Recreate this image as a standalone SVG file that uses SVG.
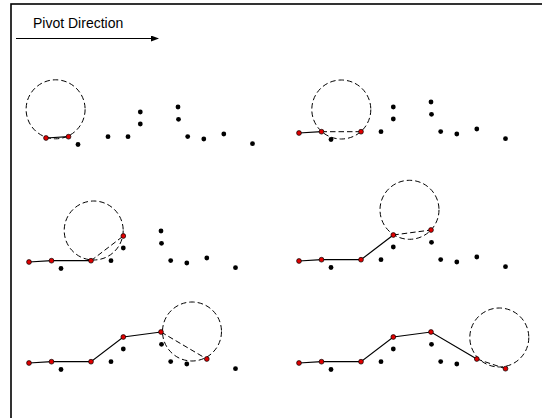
<svg xmlns="http://www.w3.org/2000/svg" xmlns:xlink="http://www.w3.org/1999/xlink" width="542" height="418" viewBox="0 0 542 418">
<style>
.frame{fill:none;stroke:#000;stroke-width:1.6}
.title{font-family:"Liberation Sans",Arial,sans-serif;font-size:14px;fill:#000}
.ball{fill:none;stroke:#000;stroke-width:1;stroke-dasharray:5.5,3}
.edge{fill:none;stroke:#000;stroke-width:1.2}
.cand{fill:none;stroke:#000;stroke-width:1;stroke-dasharray:5.5,3}
.pt{fill:#000}
.rp{fill:#e00000;stroke:#000;stroke-width:0.7}
</style>
<defs>
<marker id="arr" markerWidth="8" markerHeight="6" refX="7" refY="3" orient="auto" markerUnits="userSpaceOnUse">
<path d="M0,0 L8,3 L0,6 Z" fill="#000"/>
</marker>
<circle id="b" r="2.4" class="pt"/>
<circle id="r" r="2.4" class="rp"/>
</defs>
<rect class="frame" x="11" y="4" width="560" height="450"/>
<g id="legend">
<text class="title" x="33" y="28">Pivot Direction</text>
<line x1="16" y1="38.5" x2="158" y2="38.5" stroke="#000" stroke-width="1" marker-end="url(#arr)"/>
</g>

<g id="panel1" transform="translate(0,0)">
<g id="connectors1">
<circle class="ball" cx="55.6" cy="109.3" r="29.5"/>
<polyline class="edge" points="46,138 68.5,136.7"/>
</g>
<g id="points1">
<use href="#r" x="46" y="138"/><use href="#r" x="68.5" y="136.7"/>
<use href="#b" x="78" y="144.5"/><use href="#b" x="108" y="136.7"/><use href="#b" x="128" y="136.7"/>
<use href="#b" x="140.3" y="112"/><use href="#b" x="140.3" y="124"/><use href="#b" x="178" y="107"/>
<use href="#b" x="178.5" y="119.3"/><use href="#b" x="187.7" y="136.6"/><use href="#b" x="203.8" y="139"/>
<use href="#b" x="223.8" y="134"/><use href="#b" x="252.5" y="143.7"/>
</g>
</g>

<g id="panel2" transform="translate(253,-5)">
<g id="connectors2">
<circle class="ball" cx="88.3" cy="114.5" r="29.5"/>
<polyline class="edge" points="46,138 68.5,136.7"/>
<line class="cand" x1="68.5" y1="136.7" x2="108" y2="136.7"/>
</g>
<g id="points2">
<use href="#r" x="46" y="138"/><use href="#r" x="68.5" y="136.7"/>
<use href="#b" x="78" y="144.5"/><use href="#r" x="108" y="136.7"/><use href="#b" x="128" y="136.7"/>
<use href="#b" x="140.3" y="112"/><use href="#b" x="140.3" y="124"/><use href="#b" x="178" y="107"/>
<use href="#b" x="178.5" y="119.3"/><use href="#b" x="187.7" y="136.6"/><use href="#b" x="203.8" y="139"/>
<use href="#b" x="223.8" y="134"/><use href="#b" x="252.5" y="143.7"/>
</g>
</g>

<g id="panel3" transform="translate(-17,124)">
<g id="connectors3">
<circle class="ball" cx="110.7" cy="106.5" r="29.5"/>
<polyline class="edge" points="46,138 68.5,136.7 108,136.7"/>
<line class="cand" x1="108" y1="136.7" x2="140.3" y2="112"/>
</g>
<g id="points3">
<use href="#r" x="46" y="138"/><use href="#r" x="68.5" y="136.7"/>
<use href="#b" x="78" y="144.5"/><use href="#r" x="108" y="136.7"/><use href="#b" x="128" y="136.7"/>
<use href="#r" x="140.3" y="112"/><use href="#b" x="140.3" y="124"/><use href="#b" x="178" y="107"/>
<use href="#b" x="178.5" y="119.3"/><use href="#b" x="187.7" y="136.6"/><use href="#b" x="203.8" y="139"/>
<use href="#b" x="223.8" y="134"/><use href="#b" x="252.5" y="143.7"/>
</g>
</g>

<g id="panel4" transform="translate(253,123)">
<g id="connectors4">
<circle class="ball" cx="156.5" cy="86.8" r="29.5"/>
<polyline class="edge" points="46,138 68.5,136.7 108,136.7 140.3,112"/>
<line class="cand" x1="140.3" y1="112" x2="178" y2="107"/>
</g>
<g id="points4">
<use href="#r" x="46" y="138"/><use href="#r" x="68.5" y="136.7"/>
<use href="#b" x="78" y="144.5"/><use href="#r" x="108" y="136.7"/><use href="#b" x="128" y="136.7"/>
<use href="#r" x="140.3" y="112"/><use href="#b" x="140.3" y="124"/><use href="#r" x="178" y="107"/>
<use href="#b" x="178.5" y="119.3"/><use href="#b" x="187.7" y="136.6"/><use href="#b" x="203.8" y="139"/>
<use href="#b" x="223.8" y="134"/><use href="#b" x="252.5" y="143.7"/>
</g>
</g>

<g id="panel5" transform="translate(-17,225)">
<g id="connectors5">
<circle class="ball" cx="209" cy="106.5" r="29.5"/>
<polyline class="edge" points="46,138 68.5,136.7 108,136.7 140.3,112 178,107"/>
<line class="cand" x1="178" y1="107" x2="223.8" y2="134"/>
</g>
<g id="points5">
<use href="#r" x="46" y="138"/><use href="#r" x="68.5" y="136.7"/>
<use href="#b" x="78" y="144.5"/><use href="#r" x="108" y="136.7"/><use href="#b" x="128" y="136.7"/>
<use href="#r" x="140.3" y="112"/><use href="#b" x="140.3" y="124"/><use href="#r" x="178" y="107"/>
<use href="#b" x="178.5" y="119.3"/><use href="#b" x="187.7" y="136.6"/><use href="#b" x="203.8" y="139"/>
<use href="#r" x="223.8" y="134"/><use href="#b" x="252.5" y="143.7"/>
</g>
</g>

<g id="panel6" transform="translate(253,225)">
<g id="connectors6">
<circle class="ball" cx="246.3" cy="112.5" r="29.5"/>
<polyline class="edge" points="46,138 68.5,136.7 108,136.7 140.3,112 178,107 223.8,134"/>
<line class="cand" x1="223.8" y1="134" x2="252.5" y2="143.7"/>
</g>
<g id="points6">
<use href="#r" x="46" y="138"/><use href="#r" x="68.5" y="136.7"/>
<use href="#b" x="78" y="144.5"/><use href="#r" x="108" y="136.7"/><use href="#b" x="128" y="136.7"/>
<use href="#r" x="140.3" y="112"/><use href="#b" x="140.3" y="124"/><use href="#r" x="178" y="107"/>
<use href="#b" x="178.5" y="119.3"/><use href="#b" x="187.7" y="136.6"/><use href="#b" x="203.8" y="139"/>
<use href="#r" x="223.8" y="134"/><use href="#r" x="252.5" y="143.7"/>
</g>
</g>
</svg>
